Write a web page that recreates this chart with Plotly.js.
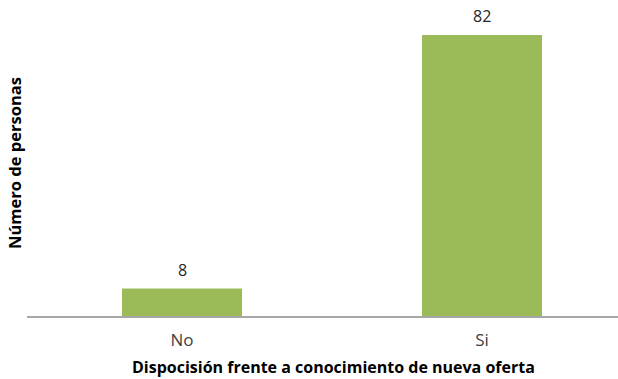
<!DOCTYPE html>
<html><head><meta charset="utf-8">
<script src="https://cdn.plot.ly/plotly-3.0.1.min.js"></script>
<style>html,body{margin:0;padding:0;background:#fff}</style>
</head><body><div id="chart" style="width:618px;height:379px"></div>
<script>
const categories = ["No", "Si"];
const values = [8, 82];
const xTitle = "Dispocisión frente a conocimiento de nueva oferta";
const yTitle = "Número de personas";

const trace = {
  type: "bar", x: categories, y: values, width: 0.4,
  marker: {color: "#9BBB59"}, hoverinfo: "none"
};
const annotations = categories.map((c, i) => ({
  x: c, y: values[i], xref: "x", yref: "y", text: String(values[i]),
  showarrow: false, yanchor: "bottom", yshift: 6,
  font: {family: "Open Sans, sans-serif", size: 16, color: "#262626"}
}));
annotations.push({
  x: 0.5178, y: 0, xref: "paper", yref: "paper", yshift: -51,
  xanchor: "center", yanchor: "middle", showarrow: false, text: xTitle,
  font: {family: "Open Sans, sans-serif", size: 16, color: "#000", weight: "bold"}
});
const layout = {
  width: 618, height: 379,
  margin: {l: 27, r: 0, t: 10, b: 63},
  paper_bgcolor: "#fff", plot_bgcolor: "#fff",
  showlegend: false,
  xaxis: {
    range: [-0.5167, 1.4533], showline: true, linecolor: "#A6A6A6", linewidth: 1.5,
    ticks: "", showgrid: false, zeroline: false, ticklabelstandoff: 8,
    tickfont: {family: "Open Sans, sans-serif", size: 17, color: "#404040"}
  },
  yaxis: {
    range: [0, 89.3], showline: false, showgrid: false, zeroline: false,
    showticklabels: false, ticks: "",
    title: {text: yTitle, standoff: 0, font: {family: "Open Sans, sans-serif", size: 16.5, color: "#000", weight: "bold"}}
  },
  annotations: annotations
};
Plotly.newPlot("chart", [trace], layout, {staticPlot: true, displayModeBar: false});
</script></body></html>
